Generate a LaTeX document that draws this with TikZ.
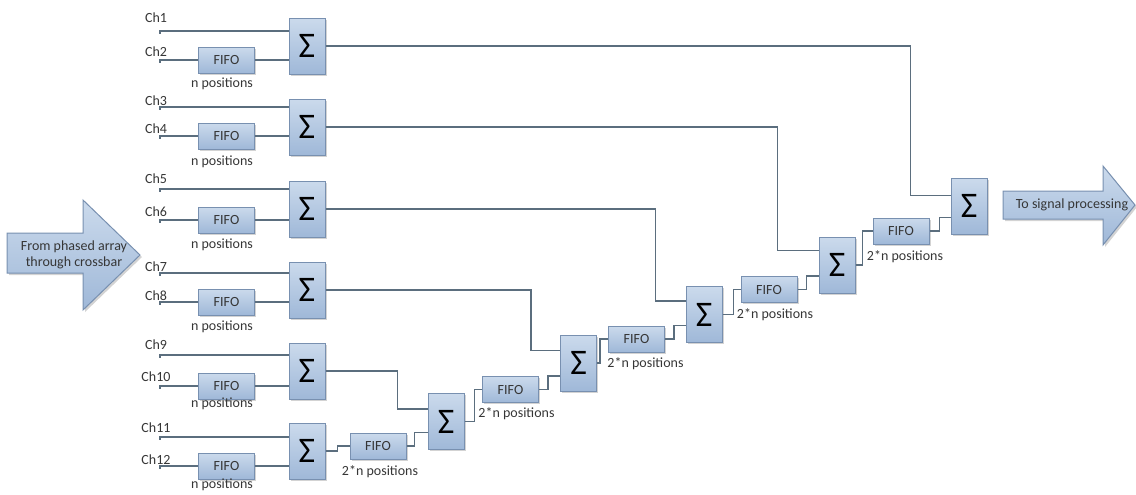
\documentclass[tikz,border=0pt]{standalone}
\usepackage{fontspec}
\setmainfont{Carlito}
\usetikzlibrary{calc,shadows}
\definecolor{boxtop}{HTML}{CBDAEC}
\definecolor{boxbot}{HTML}{9FB8D8}
\definecolor{boxdraw}{HTML}{7890B0}
\definecolor{linec}{HTML}{5B6E7E}
\definecolor{txt}{HTML}{363636}
\tikzset{
  boxbase/.style={draw=boxdraw, line width=0.75pt, top color=boxtop, bottom color=boxbot,
    drop shadow={shadow xshift=1.3pt, shadow yshift=-1.3pt, opacity=0.35}, inner sep=0pt},
  sigbox/.style={boxbase, minimum width=27pt, minimum height=42pt, font=\fontsize{27}{27}\selectfont, text=black},
  fifobox/.style={boxbase, minimum width=42pt, minimum height=19.5pt, text=txt},
  arrowshape/.style={draw=boxdraw, line width=0.75pt, top color=boxtop, bottom color=boxbot,
    drop shadow={shadow xshift=1.5pt, shadow yshift=-1.5pt, opacity=0.35}},
  wire/.style={draw=linec, line width=0.8pt},
  lbl/.style={text=txt, inner sep=0pt}
}
\begin{document}
\begin{tikzpicture}[x=0.75pt, y=-0.75pt, font=\fontsize{10.5}{12}\selectfont]
\useasboundingbox (0,0) rectangle (1136,494);

% input / output arrows
\path[arrowshape] (7,233) -- (83,233) -- (83,200) -- (140,255) -- (83,310) -- (83,273) -- (7,273) -- cycle;
\node[lbl, align=center] (inA) at (74,255) {From phased array\\through crossbar};
\path[arrowshape] (1003,191) -- (1103,191) -- (1103,166) -- (1135,205) -- (1103,245) -- (1103,219) -- (1003,219) -- cycle;
\node[lbl] (outA) at (1072,205) {To signal processing};

% first column
\foreach \i/\j/\k/\sy/\laA/\lnA/\laB/\lnB/\off in {1/1/2/46/18/31/52/60/24, 2/3/4/127/101/107/129/136/26, 3/5/6/209/179/189/212/220/25, 4/7/8/290/267/273/296/302/25, 5/9/10/371/345/355/377/386/18, 6/11/12/451/428/437/460/466/19}
{
  \node[sigbox] (S\i) at (307,\sy) {Σ};
  \node[fifobox] (Q\i) at (226.5,\lnB) {FIFO};
  \node[lbl] (QL\i) at (222,{\lnB+\off}) {n positions};
  \coordinate (cA\i) at (160,\lnA);
  \coordinate (cB\i) at (160,\lnB);
  \node[lbl] (chA\i) at (156,\laA) {Ch\j};
  \node[lbl] (chB\i) at (156,\laB) {Ch\k};
  \draw[wire] ($(cA\i)+(0,2.5)$) -- (cA\i) -- (S\i.west |- cA\i);
  \draw[wire] ($(cB\i)+(0,2.5)$) -- (cB\i) -- (Q\i.west);
  \draw[wire] (Q\i.east) -- (S\i.west |- Q\i.east);
}

% merge stages
\node[sigbox] (SA) at (446,421.5) {Σ};
\node[sigbox] (SB) at (578.5,363) {Σ};
\node[sigbox] (SC) at (704,314.5) {Σ};
\node[sigbox] (SD) at (837,265) {Σ};
\node[sigbox] (SE) at (969,206) {Σ};

\node[fifobox] (G1) at (378,446) {FIFO};
\node[fifobox] (G2) at (510.5,389.5) {FIFO};
\node[fifobox] (G3) at (636.5,339) {FIFO};
\node[fifobox] (G4) at (769,289.5) {FIFO};
\node[fifobox] (G5) at (901,231) {FIFO};

\node[lbl] (GL1) at ($(G1)+(2,26)$) {2*n positions};
\node[lbl] (GL2) at ($(G2)+(6,24)$) {2*n positions};
\node[lbl] (GL3) at ($(G3)+(9,25)$) {2*n positions};
\node[lbl] (GL4) at ($(G4)+(6,25.5)$) {2*n positions};
\node[lbl] (GL5) at ($(G5)+(4,26)$) {2*n positions};

% connectors
\draw[wire] (S6.east) -- ++(12,0) |- (G1.west);
\draw[wire] (G1.east) -- ++(8,0) |- (SA.west |- G1.north);
\draw[wire] (S5.east) -| ($(SA.north west)+(-30,16)$) -- ($(SA.north west)+(0,16)$);

\draw[wire] (SA.east) -- ++(10,0) |- (G2.west);
\draw[wire] (G2.east) -- ++(9,0) |- (SB.west |- G2.north);
\draw[wire] (S4.east) -| ($(SB.north west)+(-29,16)$) -- ($(SB.north west)+(0,16)$);

\draw[wire] (SB.east) -- ++(3,0) |- (G3.west);
\draw[wire] (G3.east) -- ++(9,0) |- (SC.west |- G3.north);
\draw[wire] (S3.east) -| ($(SC.north west)+(-30,15)$) -- ($(SC.north west)+(0,15)$);

\draw[wire] (SC.east) -- ++(11,0) |- (G4.west);
\draw[wire] (G4.east) -- ++(9,0) |- (SD.west |- G4.north);
\draw[wire] (S2.east) -| ($(SD.north west)+(-41,14)$) -- ($(SD.north west)+(0,14)$);

\draw[wire] (SD.east) -- ++(7,0) |- (G5.west);
\draw[wire] (G5.east) -- ++(10,0) |- (SE.west |- G5.north);
\draw[wire] (S1.east) -| ($(SE.north west)+(-40,18)$) -- ($(SE.north west)+(0,18)$);
\end{tikzpicture}
\end{document}
